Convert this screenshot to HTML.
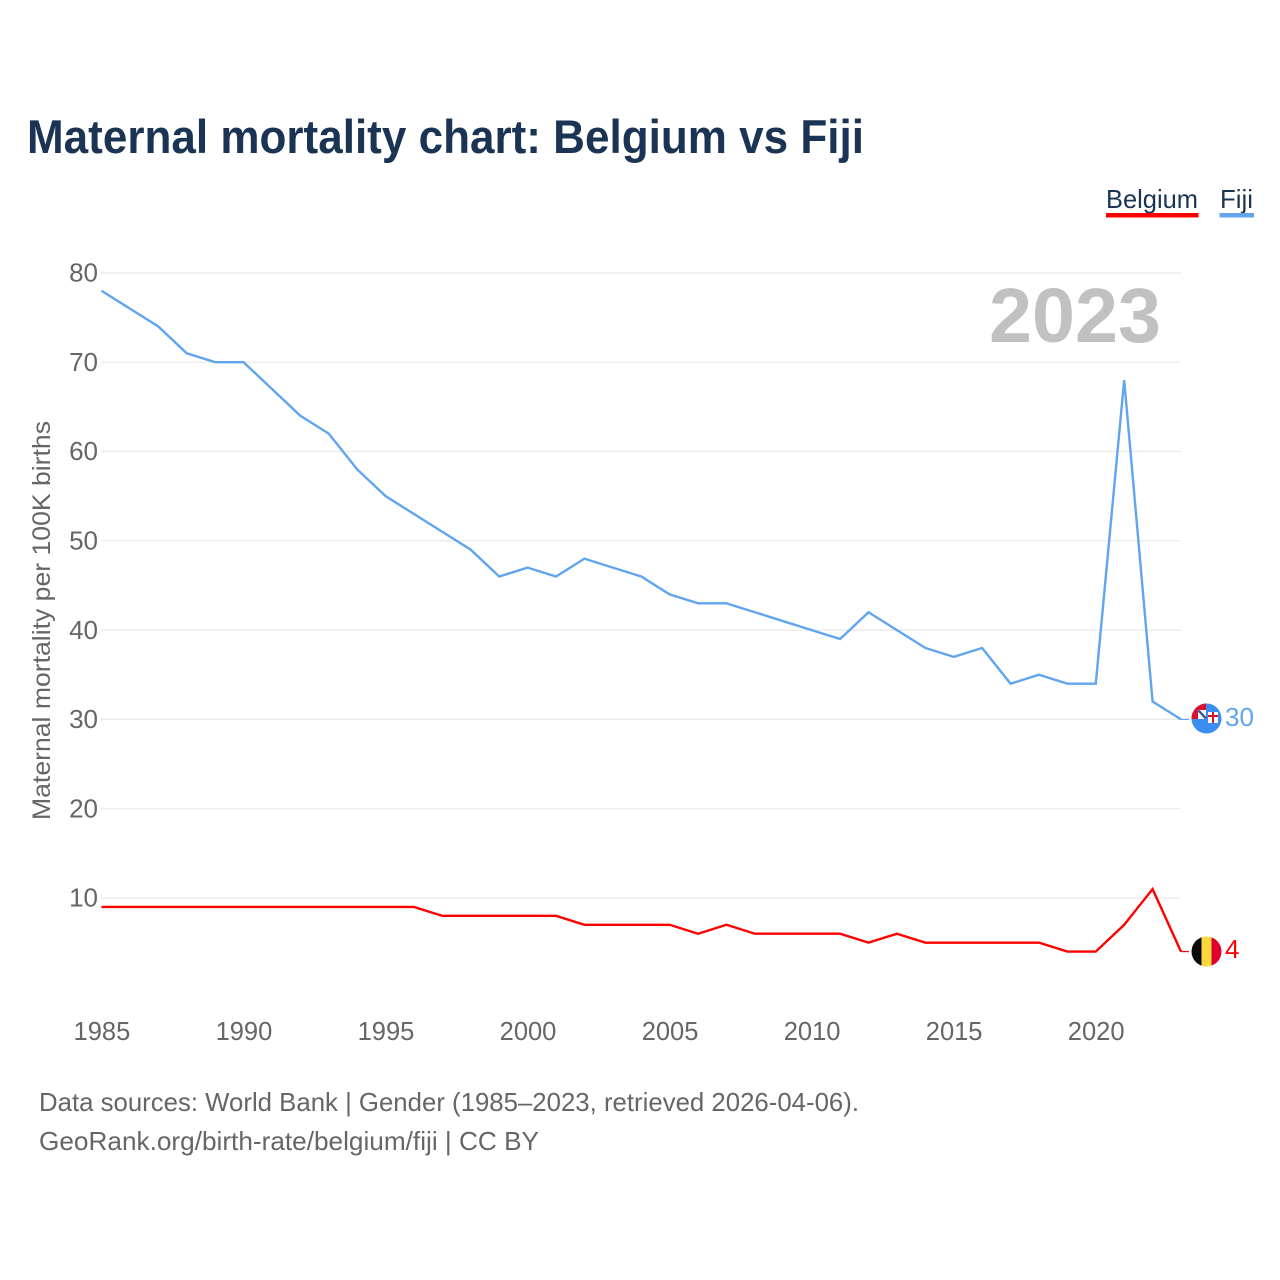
<!DOCTYPE html>
<html>
<head>
<meta charset="utf-8">
<title>Maternal mortality chart: Belgium vs Fiji</title>
<style>
html,body{margin:0;padding:0;background:#fff;width:1280px;height:1280px;overflow:hidden}
svg{display:block}
text{font-family:"Liberation Sans",sans-serif}
</style>
</head>
<body>
<svg id="chart" xmlns="http://www.w3.org/2000/svg" width="1280" height="1280" viewBox="0 0 1280 1280">
  <rect x="0" y="0" width="1280" height="1280" fill="#fff"/>
  <text x="27" y="153" font-size="47" font-weight="700" fill="#1b3454" textLength="837" lengthAdjust="spacingAndGlyphs">Maternal mortality chart: Belgium vs Fiji</text>

  <g>
    <g>
      <text x="1106" y="208" font-size="26" fill="#1b3454" textLength="92" lengthAdjust="spacingAndGlyphs">Belgium</text>
      <rect x="1106" y="213" width="92.500" height="4.500" fill="#ff0000"/>
    </g>
    <g>
      <text x="1220" y="208" font-size="26" fill="#1b3454" textLength="33" lengthAdjust="spacingAndGlyphs">Fiji</text>
      <rect x="1219.500" y="213" width="34.500" height="4.500" fill="#60a5ee"/>
    </g>
  </g>

  <g id="grid"></g>
  <g id="y-ticks"></g>
  <g id="x-ticks"></g>

  <text transform="translate(50,820) rotate(-90)" x="0" y="0" font-size="25" fill="#666666" textLength="399" lengthAdjust="spacingAndGlyphs">Maternal mortality per 100K births</text>

  <text x="989" y="342" font-size="77" font-weight="700" fill="#c1c1c1" textLength="172" lengthAdjust="spacingAndGlyphs">2023</text>

  <g id="series"></g>

  <defs>
    <clipPath id="fiji-clip"><circle cx="1206.500" cy="718.500" r="15"/></clipPath>
    <clipPath id="belgium-clip"><circle cx="1206.500" cy="951.500" r="15"/></clipPath>
  </defs>

  <g clip-path="url(#fiji-clip)">
    <rect x="1190" y="703" width="34" height="32" fill="#3a8eef"/>
    <rect x="1190" y="703" width="16" height="16" fill="#d8112e"/>
    <rect x="1198" y="710" width="8" height="9" fill="#ffffff"/>
    <path d="M1198.500 710.500 L1206 718.500" stroke="#3d5c9c" stroke-width="2.500" fill="none"/>
    <rect x="1208" y="712" width="10" height="11" fill="#ffffff"/>
    <path d="M1213 712 V723 M1208 716 H1218" stroke="#d8112e" stroke-width="2" fill="none"/>
  </g>
  <text id="fiji-value" x="1225" y="726" font-size="26" fill="#60a5ee">30</text>

  <g clip-path="url(#belgium-clip)">
    <rect x="1190" y="935" width="11.500" height="33" fill="#0a0a0a"/>
    <rect x="1201.500" y="935" width="10" height="33" fill="#fdd83d"/>
    <rect x="1211.500" y="935" width="11" height="33" fill="#e0002d"/>
  </g>
  <text id="belgium-value" x="1225" y="958" font-size="26" fill="#ff0000">4</text>

  <g>
    <text x="39" y="1111" font-size="26" fill="#666666" textLength="820" lengthAdjust="spacingAndGlyphs">Data sources: World Bank | Gender (1985–2023, retrieved 2026-04-06).</text>
    <text x="39" y="1150" font-size="26" fill="#666666" textLength="500" lengthAdjust="spacingAndGlyphs">GeoRank.org/birth-rate/belgium/fiji | CC BY</text>
  </g>
</svg>
<script>
const years = [1985,1986,1987,1988,1989,1990,1991,1992,1993,1994,1995,1996,1997,1998,1999,2000,2001,2002,2003,2004,2005,2006,2007,2008,2009,2010,2011,2012,2013,2014,2015,2016,2017,2018,2019,2020,2021,2022,2023];
const fijiValues = [78,76,74,71,70,70,67,64,62,58,55,53,51,49,46,47,46,48,47,46,44,43,43,42,41,40,39,42,40,38,37,38,34,35,34,34,68,32,30];
const belgiumValues = [9,9,9,9,9,9,9,9,9,9,9,9,8,8,8,8,8,7,7,7,7,6,7,6,6,6,6,5,6,5,5,5,5,5,4,4,7,11,4];
const yTickValues = [10,20,30,40,50,60,70,80];
const xTickValues = [1985,1990,1995,2000,2005,2010,2015,2020];

const NS = 'http://www.w3.org/2000/svg';
function xScale(year) { return 101.5 + (year - 1985) * (1181 - 101.5) / 38; }
function yScale(v) { return 987.3 - v * 8.93; }

const gridGroup = document.getElementById('grid');
const yTickGroup = document.getElementById('y-ticks');
const xTickGroup = document.getElementById('x-ticks');
const seriesGroup = document.getElementById('series');

yTickValues.forEach(function (v) {
  const line = document.createElementNS(NS, 'line');
  
  
  line.setAttribute('x1', 101);
  line.setAttribute('x2', 1181);
  line.setAttribute('y1', yScale(v));
  line.setAttribute('y2', yScale(v));
  line.setAttribute('stroke', '#e9e9e9');
  line.setAttribute('stroke-width', '1.2');
  gridGroup.appendChild(line);

  const label = document.createElementNS(NS, 'text');
  
  
  label.setAttribute('x', 98);
  label.setAttribute('y', yScale(v) + 8.7);
  label.setAttribute('text-anchor', 'end');
  label.setAttribute('font-size', '26');
  label.setAttribute('fill', '#666666');
  label.textContent = v;
  yTickGroup.appendChild(label);
});

xTickValues.forEach(function (year) {
  const label = document.createElementNS(NS, 'text');
  
  
  label.setAttribute('x', xScale(year) + 0.4);
  label.setAttribute('y', 1040);
  label.setAttribute('text-anchor', 'middle');
  label.setAttribute('font-size', '25.5');
  label.setAttribute('fill', '#666666');
  label.textContent = year;
  xTickGroup.appendChild(label);
});

function linePoints(values) {
  return values.map(function (v, i) { return xScale(years[i]).toFixed(2) + ',' + yScale(v).toFixed(2); }).join(' ');
}

const fijiLine = document.createElementNS(NS, 'polyline');


fijiLine.setAttribute('points', linePoints(fijiValues));
fijiLine.setAttribute('fill', 'none');
fijiLine.setAttribute('stroke', '#60a5ee');
fijiLine.setAttribute('stroke-width', '2.4');
seriesGroup.appendChild(fijiLine);

const belgiumLine = document.createElementNS(NS, 'polyline');


belgiumLine.setAttribute('points', linePoints(belgiumValues));
belgiumLine.setAttribute('fill', 'none');
belgiumLine.setAttribute('stroke', '#ff0000');
belgiumLine.setAttribute('stroke-width', '2.4');
seriesGroup.appendChild(belgiumLine);

const fijiConnector = document.createElementNS(NS, 'line');


fijiConnector.setAttribute('x1', xScale(2023));
fijiConnector.setAttribute('x2', xScale(2023) + 8);
fijiConnector.setAttribute('y1', yScale(fijiValues[fijiValues.length - 1]));
fijiConnector.setAttribute('y2', yScale(fijiValues[fijiValues.length - 1]));
fijiConnector.setAttribute('stroke', '#60a5ee');
fijiConnector.setAttribute('stroke-width', '1.2');
seriesGroup.appendChild(fijiConnector);

const belgiumConnector = document.createElementNS(NS, 'line');


belgiumConnector.setAttribute('x1', xScale(2023));
belgiumConnector.setAttribute('x2', xScale(2023) + 8);
belgiumConnector.setAttribute('y1', yScale(belgiumValues[belgiumValues.length - 1]));
belgiumConnector.setAttribute('y2', yScale(belgiumValues[belgiumValues.length - 1]));
belgiumConnector.setAttribute('stroke', '#ff0000');
belgiumConnector.setAttribute('stroke-width', '1.2');
seriesGroup.appendChild(belgiumConnector);

document.getElementById('fiji-value').textContent = fijiValues[fijiValues.length - 1];
document.getElementById('belgium-value').textContent = belgiumValues[belgiumValues.length - 1];
</script>
</body>
</html>
